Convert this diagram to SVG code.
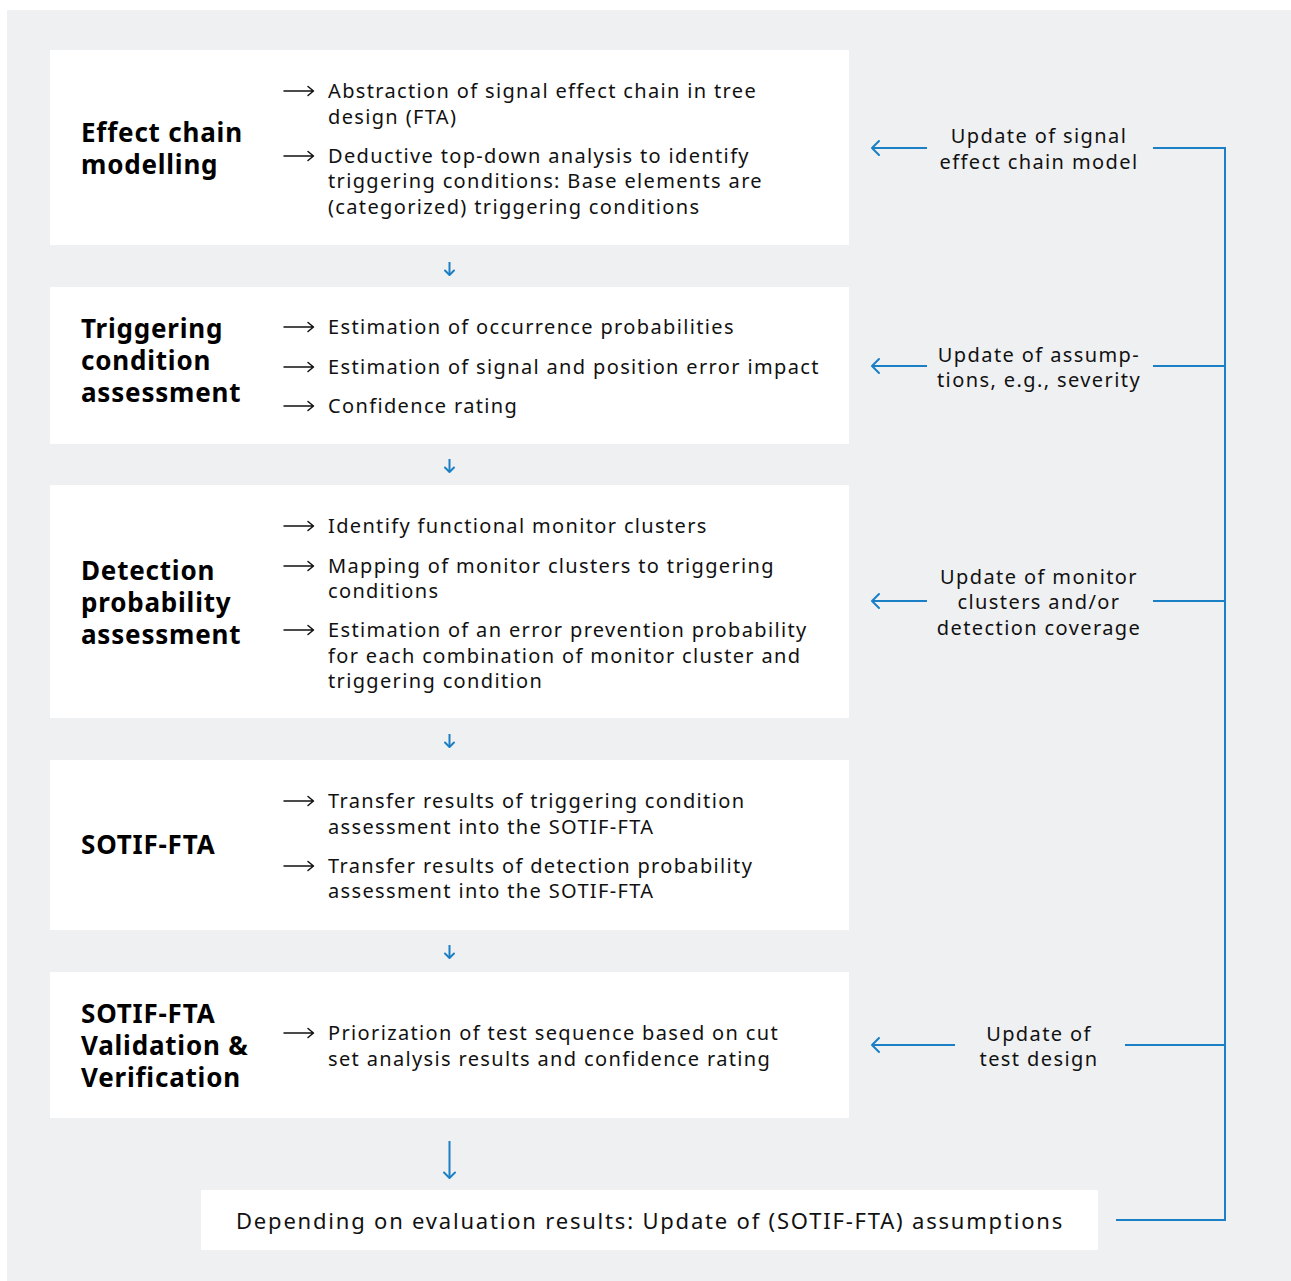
<svg xmlns="http://www.w3.org/2000/svg" width="1291" height="1281" viewBox="0 0 1291 1281">
  <style>
    .panel { fill: #ffffff; }
    .head { font-family: "Noto Sans", "Liberation Sans", sans-serif; font-weight: 700; font-size: 26px; fill: #000; letter-spacing: 0.8px; }
    .body { font-family: "Noto Sans", "Liberation Sans", sans-serif; font-size: 20px; fill: #111; letter-spacing: 1.35px; }
    .side { font-family: "Noto Sans", "Liberation Sans", sans-serif; font-size: 20px; fill: #111; letter-spacing: 1.4px; text-anchor: middle; }
    .foot { font-family: "Noto Sans", "Liberation Sans", sans-serif; font-size: 22px; fill: #111; letter-spacing: 1.8px; text-anchor: middle; }
    .bullet { fill: none; stroke: #111; stroke-width: 1.5; stroke-linecap: round; stroke-linejoin: round; }
    .flow { fill: none; stroke: #1a7fc4; stroke-width: 2; stroke-linecap: butt; stroke-linejoin: miter; }
    .tip { fill: none; stroke: #1a7fc4; stroke-width: 2; stroke-linecap: round; stroke-linejoin: round; }
  </style>
  <defs>
    <!-- bullet arrow glyph used in front of each list item -->
    <g id="bul">
      <path class="bullet" d="M0 0 H29 M24 -4.5 L29.5 0 L24 4.5"/>
    </g>
  </defs>

  <rect x="7" y="10" width="1284" height="1271" fill="#eff0f2"/>

  <g id="node-effect-chain">
    <rect class="panel" x="50" y="50" width="799" height="195"/>
    <text class="head" x="81" y="142">Effect chain</text>
    <text class="head" x="81" y="174">modelling</text>
    <use href="#bul" x="284" y="91"/>
    <text class="body" x="328" y="98">Abstraction of signal effect chain in tree</text>
    <text class="body" x="328" y="124">design (FTA)</text>
    <use href="#bul" x="284" y="156"/>
    <text class="body" x="328" y="163">Deductive top-down analysis to identify</text>
    <text class="body" x="328" y="188">triggering conditions: Base elements are</text>
    <text class="body" x="328" y="214">(categorized) triggering conditions</text>
  </g>

  <g id="node-triggering">
    <rect class="panel" x="50" y="287" width="799" height="157"/>
    <text class="head" x="81" y="338">Triggering</text>
    <text class="head" x="81" y="370">condition</text>
    <text class="head" x="81" y="402">assessment</text>
    <use href="#bul" x="284" y="327"/>
    <text class="body" x="328" y="334">Estimation of occurrence probabilities</text>
    <use href="#bul" x="284" y="367"/>
    <text class="body" x="328" y="374">Estimation of signal and position error impact</text>
    <use href="#bul" x="284" y="406"/>
    <text class="body" x="328" y="413">Confidence rating</text>
  </g>

  <g id="node-detection">
    <rect class="panel" x="50" y="485" width="799" height="233"/>
    <text class="head" x="81" y="580">Detection</text>
    <text class="head" x="81" y="612">probability</text>
    <text class="head" x="81" y="644">assessment</text>
    <use href="#bul" x="284" y="526"/>
    <text class="body" x="328" y="533">Identify functional monitor clusters</text>
    <use href="#bul" x="284" y="566"/>
    <text class="body" x="328" y="573">Mapping of monitor clusters to triggering</text>
    <text class="body" x="328" y="598">conditions</text>
    <use href="#bul" x="284" y="630"/>
    <text class="body" x="328" y="637">Estimation of an error prevention probability</text>
    <text class="body" x="328" y="663">for each combination of monitor cluster and</text>
    <text class="body" x="328" y="688">triggering condition</text>
  </g>

  <g id="node-sotif-fta">
    <rect class="panel" x="50" y="760" width="799" height="170"/>
    <text class="head" x="81" y="854">SOTIF-FTA</text>
    <use href="#bul" x="284" y="801"/>
    <text class="body" x="328" y="808">Transfer results of triggering condition</text>
    <text class="body" x="328" y="834">assessment into the SOTIF-FTA</text>
    <use href="#bul" x="284" y="866"/>
    <text class="body" x="328" y="873">Transfer results of detection probability</text>
    <text class="body" x="328" y="898">assessment into the SOTIF-FTA</text>
  </g>

  <g id="node-validation">
    <rect class="panel" x="50" y="972" width="799" height="146"/>
    <text class="head" x="81" y="1023">SOTIF-FTA</text>
    <text class="head" x="81" y="1055">Validation &amp;</text>
    <text class="head" x="81" y="1087">Verification</text>
    <use href="#bul" x="284" y="1033"/>
    <text class="body" x="328" y="1040">Priorization of test sequence based on cut</text>
    <text class="body" x="328" y="1066">set analysis results and confidence rating</text>
  </g>

  <g id="node-evaluation">
    <rect class="panel" x="201" y="1190" width="897" height="60"/>
    <text class="foot" x="650" y="1229">Depending on evaluation results: Update of (SOTIF-FTA) assumptions</text>
  </g>

  <g id="feedback-labels">
    <text class="side" x="1039" y="143">Update of signal</text>
    <text class="side" x="1039" y="169">effect chain model</text>
    <text class="side" x="1039" y="362">Update of assump-</text>
    <text class="side" x="1039" y="387">tions, e.g., severity</text>
    <text class="side" x="1039" y="584">Update of monitor</text>
    <text class="side" x="1039" y="609">clusters and/or</text>
    <text class="side" x="1039" y="635">detection coverage</text>
    <text class="side" x="1039" y="1041">Update of</text>
    <text class="side" x="1039" y="1066">test design</text>
  </g>

  <g id="connectors">
    <!-- downward flow between stages -->
    <path class="flow" d="M449.5 262 V275"/>
    <path class="tip" d="M445 270.5 L449.5 275 L454 270.5"/>
    <path class="flow" d="M449.5 459 V472"/>
    <path class="tip" d="M445 467.5 L449.5 472 L454 467.5"/>
    <path class="flow" d="M449.5 734 V747"/>
    <path class="tip" d="M445 742.5 L449.5 747 L454 742.5"/>
    <path class="flow" d="M449.5 945 V958"/>
    <path class="tip" d="M445 953.5 L449.5 958 L454 953.5"/>
    <path class="flow" d="M449.5 1141 V1178"/>
    <path class="tip" d="M444 1172.5 L449.5 1178 L455 1172.5"/>

    <!-- feedback loop on the right -->
    <path class="flow" d="M1116 1220 H1225 V148 H1153"/>
    <path class="flow" d="M1153 366 H1225"/>
    <path class="flow" d="M1153 601 H1225"/>
    <path class="flow" d="M1125 1045 H1225"/>

    <!-- feedback arrows into each stage -->
    <path class="flow" d="M872 148 H927"/>
    <path class="tip" d="M879 141 L872 148 L879 155"/>
    <path class="flow" d="M872 366 H927"/>
    <path class="tip" d="M879 359 L872 366 L879 373"/>
    <path class="flow" d="M872 601 H927"/>
    <path class="tip" d="M879 594 L872 601 L879 608"/>
    <path class="flow" d="M872 1045 H955"/>
    <path class="tip" d="M879 1038 L872 1045 L879 1052"/>
  </g>
</svg>
